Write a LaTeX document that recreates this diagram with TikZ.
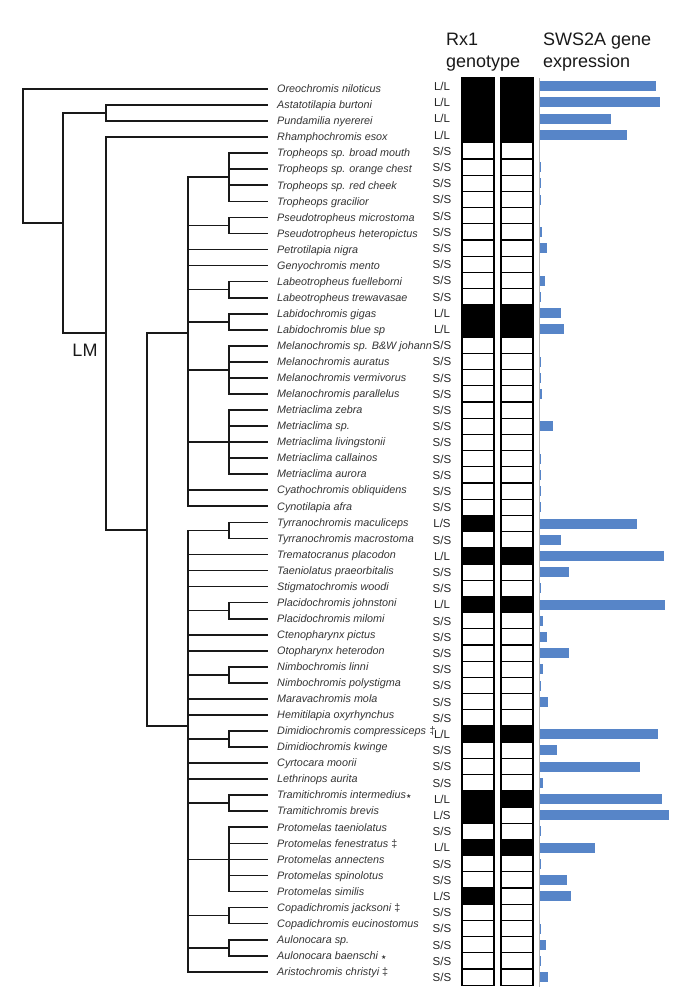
\documentclass[tikz,border=0pt]{standalone}
\usepackage{fontspec}
\setmainfont{Liberation Sans}
\newfontfamily\symfont{DejaVu Sans}
\definecolor{barblue}{RGB}{87,133,200}
\newcommand\rowy[1]{89+(#1-1)*16.05}
\newcommand\mystar{{\upshape\fontsize{6}{6}\symfont ★}}
\begin{document}
\begin{tikzpicture}[x=1pt,y=-1pt,
  tree/.style={line width=1.7pt, black!90},
  sp/.style={anchor=base west, inner sep=0pt, font=\fontsize{10.8}{12}\selectfont\itshape, text=black!80},
  gt/.style={anchor=base, inner sep=1pt, fill=white, font=\fontsize{11.5}{12}\selectfont, text=black!85},
  cell/.style={draw=black, line width=1.1pt},
  hdr/.style={anchor=base west, inner sep=0pt, font=\fontsize{18}{20}\selectfont, text=black!90},
  bar/.style={fill=barblue, draw=none}]
\useasboundingbox (0,0) rectangle (691,1002);

% species labels and leaf ends
\foreach \name [count=\i] in {
Oreochromis niloticus, Astatotilapia burtoni, Pundamilia nyererei, Rhamphochromis esox,
Tropheops sp. broad mouth, Tropheops sp. orange chest, Tropheops sp. red cheek, Tropheops gracilior,
Pseudotropheus microstoma, Pseudotropheus heteropictus, Petrotilapia nigra, Genyochromis mento,
Labeotropheus fuelleborni, Labeotropheus trewavasae, Labidochromis gigas, Labidochromis blue sp,
Melanochromis sp. B\&W johanni, Melanochromis auratus, Melanochromis vermivorus, Melanochromis parallelus,
Metriaclima zebra, Metriaclima sp., Metriaclima livingstonii, Metriaclima callainos, Metriaclima aurora,
Cyathochromis obliquidens, Cynotilapia afra, Tyrranochromis maculiceps, Tyrranochromis macrostoma,
Trematocranus placodon, Taeniolatus praeorbitalis, Stigmatochromis woodi, Placidochromis johnstoni,
Placidochromis milomi, Ctenopharynx pictus, Otopharynx heterodon, Nimbochromis linni,
Nimbochromis polystigma, Maravachromis mola, Hemitilapia oxyrhynchus,
{Dimidiochromis compressiceps\,\,{\upshape ‡}}, Dimidiochromis kwinge, Cyrtocara moorii, Lethrinops aurita,
{Tramitichromis intermedius\mystar}, Tramitichromis brevis, Protomelas taeniolatus,
{Protomelas fenestratus {\upshape ‡}}, Protomelas annectens, Protomelas spinolotus, Protomelas similis,
{Copadichromis jacksoni {\upshape ‡}}, Copadichromis eucinostomus, Aulonocara sp.,
{Aulonocara baenschi \mystar}, {Aristochromis christyi {\upshape ‡}}}
{
  \node[sp] (s\i) at (277,{\rowy{\i}+3.7}) {\name};
  \coordinate (l\i) at (268,{\rowy{\i}});
}

% internal nodes
\coordinate (R) at (23,156);
\coordinate (N63) at (63,223);
\coordinate (N106a) at (106,{\rowy{2.5}});
\coordinate (N106b) at (106,333);
\coordinate (N147) at (147,530);
\coordinate (A) at (188,333);
\coordinate (B) at (188,726);
\foreach \c/\a/\b in {T1/5/8,T2/9/10,T3/13/14,T4/15/16,T5/17/20,T6/21/25,
  T7/28/29,T8/33/34,T9/37/38,T10/41/42,T11/45/46,T12/47/51,T13/52/53,T14/54/55}
{
  \coordinate (\c) at (229,{\rowy{(\a+\b)/2}});
  \foreach \k in {\a,...,\b} \draw[tree] (\c) |- (l\k);
}
\draw[tree] (R) |- (l1) (R) |- (N63);
\draw[tree] (N63) |- (N106a) (N63) |- (N106b);
\draw[tree] (N106a) |- (l2) (N106a) |- (l3);
\draw[tree] (N106b) |- (l4) (N106b) |- (N147);
\draw[tree] (N147) |- (A) (N147) |- (B);
\foreach \t in {T1,T2,l11,l12,T3,T4,T5,T6,l26,l27} \draw[tree] (A) |- (\t);
\foreach \t in {T7,l30,l31,l32,T8,l35,l36,T9,l39,l40,T10,l43,l44,T11,T12,T13,T14,l56}
  \draw[tree] (B) |- (\t);

\node[font=\fontsize{18}{20}\selectfont, text=black!90] (lm) at (85,350) {LM};

% genotype cells and labels
\foreach \g [count=\i] in {2,2,2,2, 0,0,0,0,0,0,0,0,0,0, 2,2, 0,0,0,0,0,0,0,0,0,0,0,
  1,0,2,0,0,2, 0,0,0,0,0,0,0, 2,0,0,0, 2,1,0,2,0,0,1, 0,0,0,0,0}
{
  \pgfmathsetmacro\tp{78+(\i-1)*16.2}
  \pgfmathsetmacro\bt{\tp+16.2}
  \ifnum\g>0 \def\ca{black}\else\def\ca{white}\fi
  \ifnum\g>1 \def\cb{black}\else\def\cb{white}\fi
  \draw[cell, fill=\ca] (462,\tp) rectangle (494,\bt);
  \draw[cell, fill=\cb] (501,\tp) rectangle (533,\bt);
  \node[gt] (g\i) at (442,{\tp+12.4}) {\ifcase\g S/S\or L/S\else L/L\fi};
}

% expression bars
\draw[gray!60, line width=0.6pt] (539,78) -- (539,987);
\foreach \w [count=\i] in {116,120,71,87, 0,1,1,1,0,1.5,7,0,4.5,1, 21,24,
  0,0.8,0.8,1.5,0,13,0,1.2,0.8,0.8,0.8, 97,21,124,29,0.8,125,
  2.5,7,29,2.5,0.8,8,0, 118,17,100,2.5, 122,129,0.8,55,0.8,27,31,
  0,0.8,6,0.8,8}
{
  \pgfmathsetmacro\cy{86.1+(\i-1)*16.2}
  \ifdim\w pt>0pt
    \fill[barblue] (540,{\cy-5}) rectangle ({540+\w},{\cy+5});
  \fi
}

% headers
\node[hdr] (h1) at (446,45) {Rx1};
\node[hdr] (h2) at (446,67) {genotype};
\node[hdr] (h3) at (543,45) {SWS2A gene};
\node[hdr] (h4) at (543,67) {expression};
\end{tikzpicture}
\end{document}
